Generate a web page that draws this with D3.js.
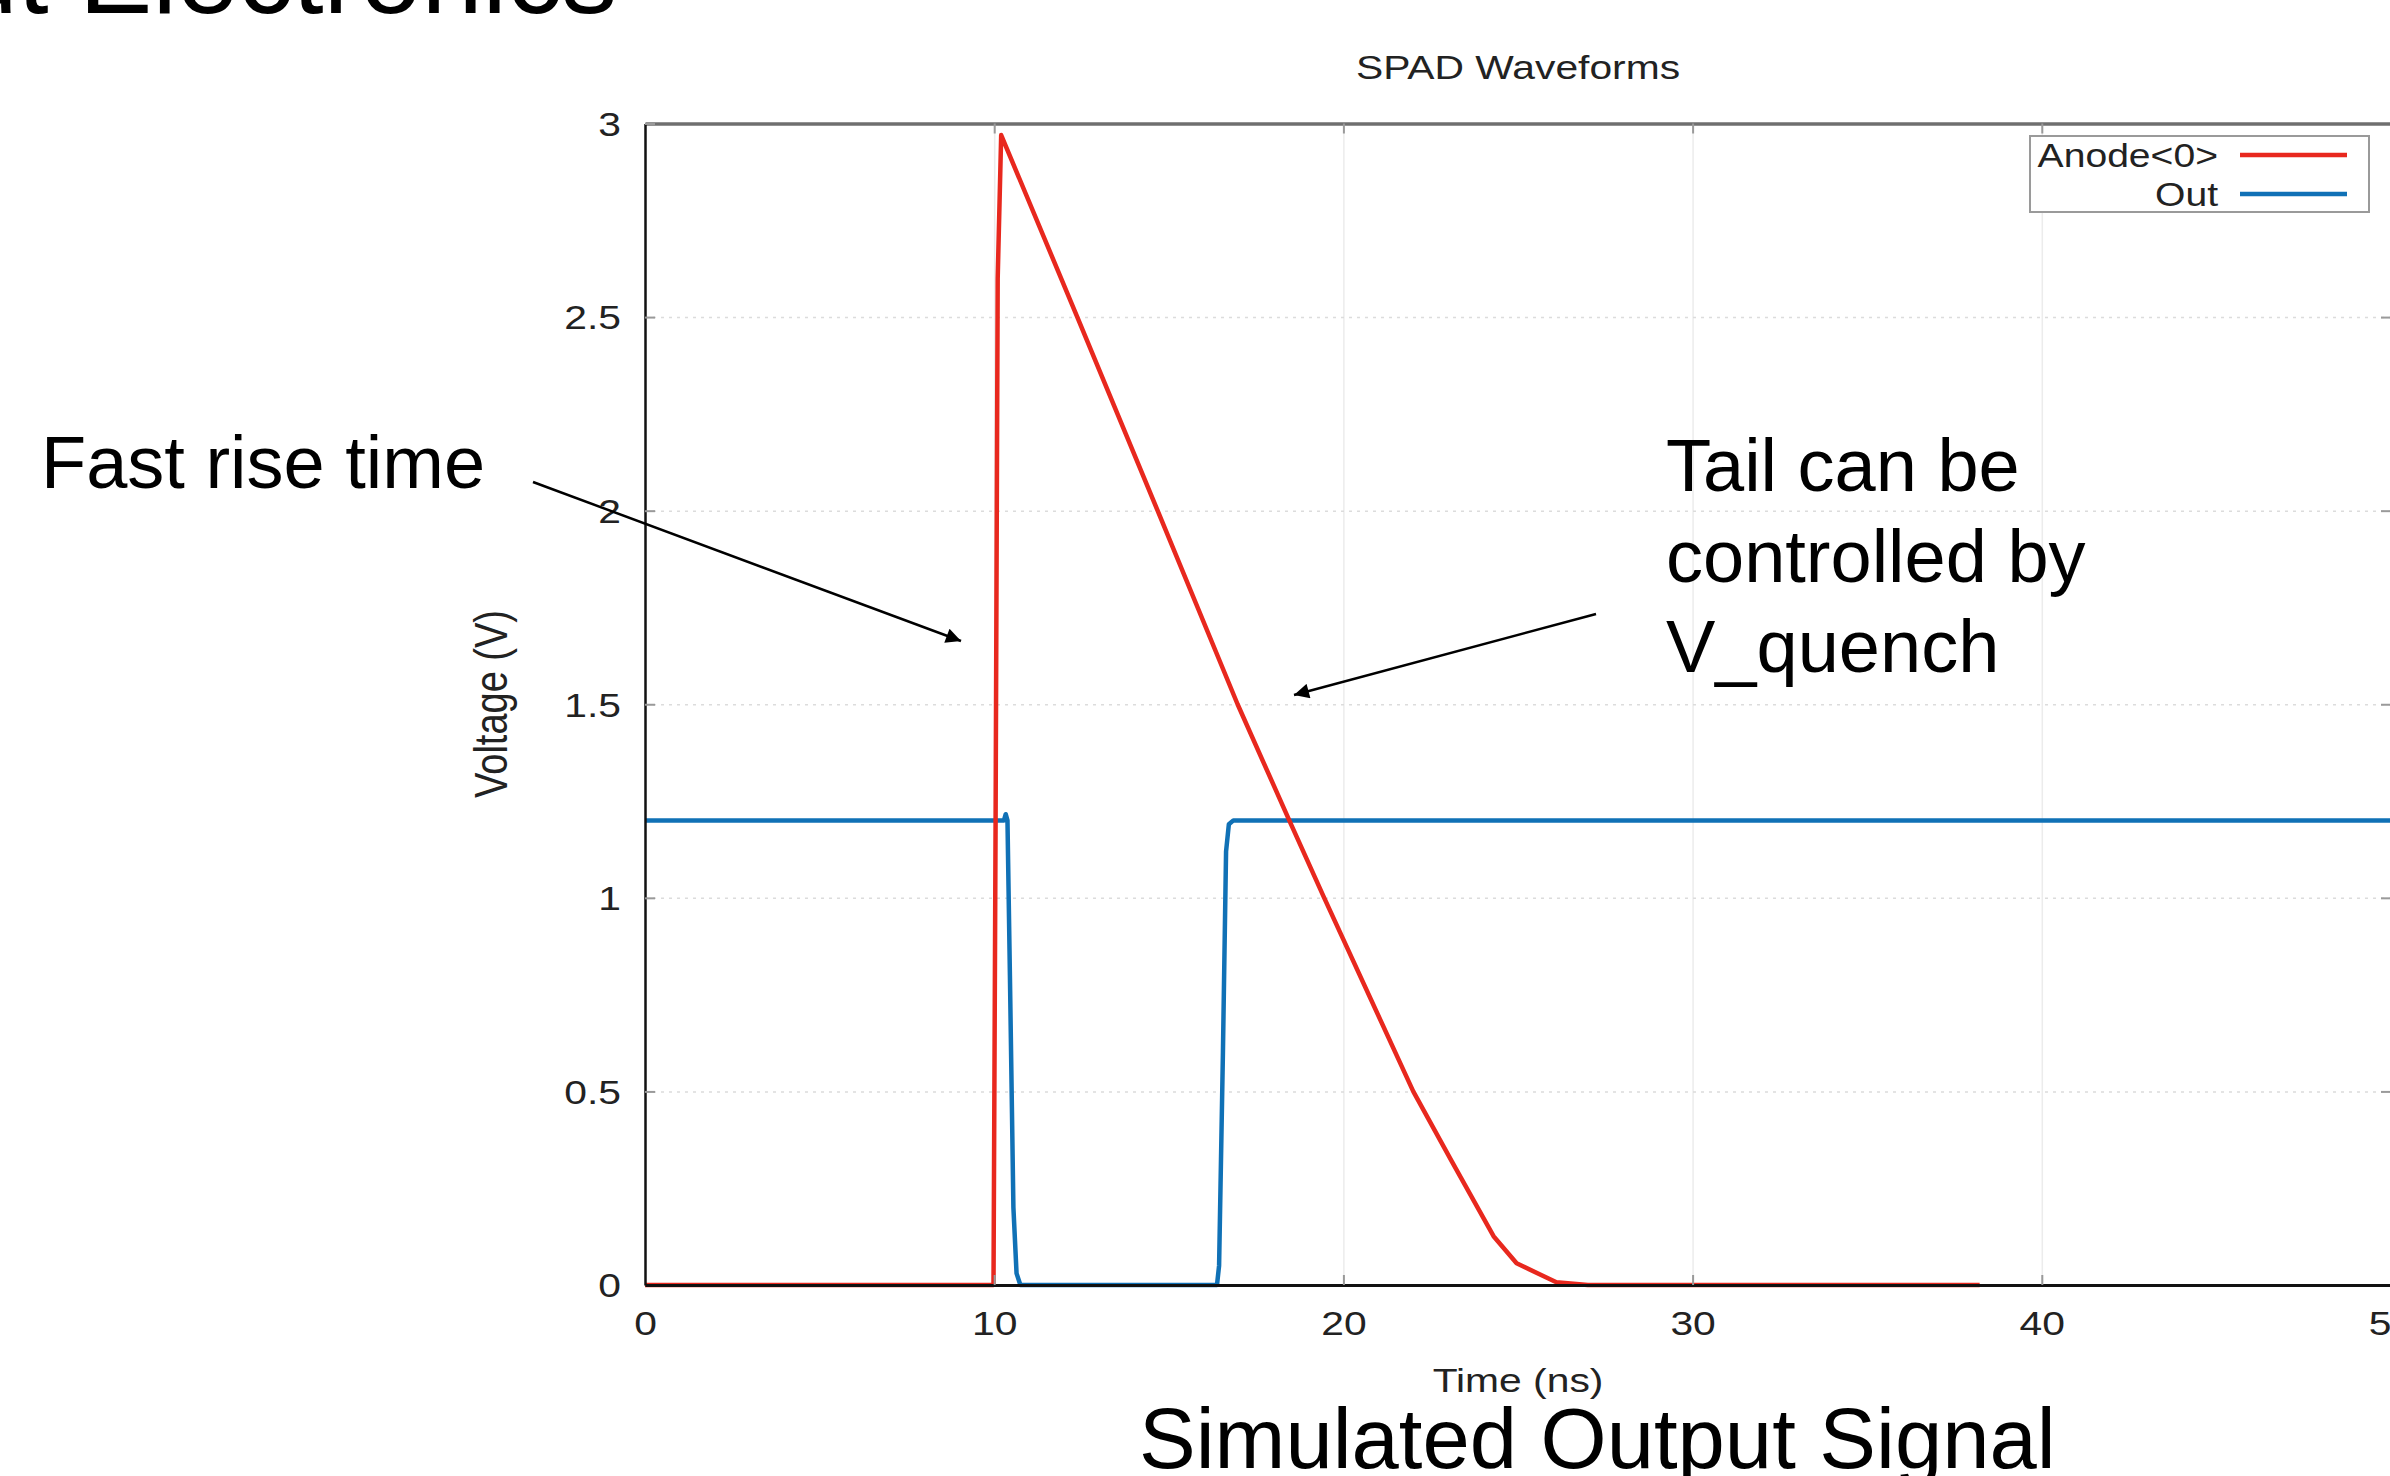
<!DOCTYPE html>
<html>
<head>
<meta charset="utf-8">
<script src="https://cdn.jsdelivr.net/npm/d3@7"></script>
<style>
  html, body { margin: 0; padding: 0; background: #fff; }
  svg { display: block; }
  text { font-family: "Liberation Sans", Arial, Helvetica, sans-serif; }
</style>
</head>
<body>
<svg id="chart" width="2390" height="1476"></svg>
<script>
// ---- data ----
const xTicks = [0, 10, 20, 30, 40, 50];
const yTicks = [0, 0.5, 1, 1.5, 2, 2.5, 3];
const seriesNames = ["Anode<0>", "Out"];
const anodeT = [0, 9.98, 10.04, 10.1, 10.2, 12.38, 14.68, 16.97, 18.45, 19.45, 22.0, 23.1, 24.3, 24.96, 26.1, 27.0, 38.22];
const anodeV = [0, 0, 1.2, 2.6, 2.97, 2.5, 2.0, 1.5, 1.2, 1.0, 0.5, 0.32, 0.126, 0.056, 0.007, 0, 0];
const outT = [0, 10.28, 10.33, 10.38, 10.45, 10.55, 10.64, 10.75, 16.38, 16.44, 16.55, 16.64, 16.72, 16.85, 50];
const outV = [1.2, 1.2, 1.216, 1.2, 0.8, 0.2, 0.03, 0, 0, 0.05, 0.6, 1.12, 1.19, 1.2, 1.2];
const annotations = {
  fast: "Fast rise time",
  tail: ["Tail can be", "controlled by", "V_quench"],
  bottom: "Simulated Output Signal",
  top: "Readout Electronics"
};

const svg = d3.select("#chart");
const X0 = 645, X1 = 2391, Y0 = 1285, Y1 = 123.5;
const x = d3.scaleLinear().domain([0, 50]).range([X0, X1]);
const y = d3.scaleLinear().domain([0, 3]).range([Y0, Y1]);
const SX = 1.2; // chart image is horizontally stretched in the slide
const red = "#e8281e", blue = "#1071b6";

// grid
svg.append("g").attr("transform", `translate(0,${Y0})`)
  .call(d3.axisBottom(x).tickValues([10, 20, 30, 40]).tickSize(-(Y0 - Y1)).tickFormat(""))
  .call(g => g.select(".domain").remove())
  .call(g => g.selectAll("line").attr("stroke", "#ececec").attr("stroke-width", 1.5));
svg.append("g").attr("transform", `translate(${X0},0)`)
  .call(d3.axisLeft(y).tickValues([0.5, 1, 1.5, 2, 2.5]).tickSize(-(X1 - X0)).tickFormat(""))
  .call(g => g.select(".domain").remove())
  .call(g => g.selectAll("line").attr("stroke", "#dcdcdc").attr("stroke-width", 1.5).attr("stroke-dasharray", "3,5"));

// lines
const line = d3.line().x(d => x(d[0])).y(d => y(d[1]));
svg.append("path").datum(outT.map((t, i) => [t, outV[i]]))
  .attr("d", line).attr("fill", "none").attr("stroke", blue).attr("stroke-width", 4.5).attr("stroke-linejoin", "round");
svg.append("path").datum(anodeT.map((t, i) => [t, anodeV[i]]))
  .attr("d", line).attr("fill", "none").attr("stroke", red).attr("stroke-width", 4.5).attr("stroke-linejoin", "round");

// axes
function styleText(sel, tx, ty) {
  sel.selectAll("text")
    .attr("x", 0).attr("y", 0).attr("dy", "0.35em")
    .attr("transform", `translate(${tx},${ty}) scale(${SX},1)`)
    .attr("font-size", 34).attr("fill", "#222")
    .attr("font-family", "'Liberation Sans', Arial, sans-serif");
}
// top border with ticks
svg.append("g").attr("transform", `translate(0,${Y1})`)
  .call(d3.axisTop(x).tickValues([10, 20, 30, 40]).tickSize(-10).tickSizeOuter(0).tickFormat(""))
  .call(g => g.select(".domain").attr("stroke", "#6f6f6f").attr("stroke-width", 3.5))
  .call(g => g.selectAll(".tick line").attr("stroke", "#9a9a9a").attr("stroke-width", 2));
// right ticks
svg.append("g").attr("transform", `translate(${X1},0)`)
  .call(d3.axisRight(y).tickValues([0.5, 1, 1.5, 2, 2.5]).tickSize(-10).tickSizeOuter(0).tickFormat(""))
  .call(g => g.select(".domain").attr("stroke", "#444").attr("stroke-width", 2))
  .call(g => g.selectAll(".tick line").attr("stroke", "#9a9a9a").attr("stroke-width", 2));
// left axis
svg.append("g").attr("transform", `translate(${X0},0)`)
  .call(d3.axisLeft(y).tickValues(yTicks).tickSize(-10).tickSizeOuter(0).tickFormat(d3.format("")))
  .call(g => g.select(".domain").attr("stroke", "#111").attr("stroke-width", 2.5))
  .call(g => g.selectAll(".tick line").attr("stroke", "#999").attr("stroke-width", 2))
  .call(g => styleText(g, -24, 0));
// bottom axis
svg.append("g").attr("transform", `translate(0,${Y0})`)
  .call(d3.axisBottom(x).tickValues(xTicks).tickSize(-10).tickSizeOuter(0).tickFormat(d3.format("")))
  .call(g => g.select(".domain").attr("stroke", "#111").attr("stroke-width", 3))
  .call(g => g.selectAll(".tick line").attr("stroke", "#999").attr("stroke-width", 2))
  .call(g => styleText(g, 0, 38))
  .call(g => g.selectAll(".tick text").attr("text-anchor", "middle"));
svg.selectAll(".tick").filter(d => d === 0).select("line").attr("stroke", "none");

// titles
svg.append("text").attr("transform", `translate(1518,79) scale(${SX},1)`)
  .attr("text-anchor", "middle").attr("font-size", 34).attr("fill", "#222").text("SPAD Waveforms");
svg.append("text").attr("transform", `translate(1518,1392) scale(${SX},1)`)
  .attr("text-anchor", "middle").attr("font-size", 34).attr("fill", "#222").text("Time (ns)");
svg.append("text").attr("transform", `translate(491,704) rotate(-90) scale(1,${SX})`)
  .attr("text-anchor", "middle").attr("dy", "0.35em").attr("font-size", 38).attr("fill", "#222").text("Voltage (V)");

// legend
const lg = svg.append("g");
lg.append("rect").attr("x", 2030).attr("y", 136).attr("width", 339).attr("height", 76)
  .attr("fill", "#fff").attr("stroke", "#9a9a9a").attr("stroke-width", 2);
[[seriesNames[0], red, 155], [seriesNames[1], blue, 194]].forEach(([name, col, yy]) => {
  lg.append("text").attr("transform", `translate(2218,${yy}) scale(1.15,1)`)
    .attr("text-anchor", "end").attr("dy", "0.35em").attr("font-size", 34).attr("fill", "#222").text(name);
  lg.append("line").attr("x1", 2240).attr("x2", 2347).attr("y1", yy).attr("y2", yy)
    .attr("stroke", col).attr("stroke-width", 4.5);
});

// slide annotations
svg.append("defs").append("marker").attr("id", "ah").attr("viewBox", "0 0 10 10")
  .attr("refX", 10).attr("refY", 5).attr("markerWidth", 7).attr("markerHeight", 6)
  .attr("markerUnits", "strokeWidth").attr("orient", "auto")
  .append("path").attr("d", "M0,0 L10,5 L0,10 Z").attr("fill", "#000");
svg.append("line").attr("x1", 533).attr("y1", 482).attr("x2", 961).attr("y2", 641)
  .attr("stroke", "#000").attr("stroke-width", 2.5).attr("marker-end", "url(#ah)");
svg.append("line").attr("x1", 1596).attr("y1", 614).attr("x2", 1294).attr("y2", 695)
  .attr("stroke", "#000").attr("stroke-width", 2.5).attr("marker-end", "url(#ah)");

svg.append("text").attr("x", 41).attr("y", 488).attr("font-size", 74).attr("fill", "#000").text(annotations.fast);
annotations.tail.forEach((s, i) => {
  svg.append("text").attr("x", 1666).attr("y", 491 + i * 90.5).attr("font-size", 74).attr("fill", "#000").text(s);
});
svg.append("text").attr("x", 1139).attr("y", 1468).attr("font-size", 85).attr("fill", "#000").text(annotations.bottom);
svg.append("text").attr("x", 617).attr("y", 13).attr("text-anchor", "end").attr("font-size", 110).attr("fill", "#000").text(annotations.top);
</script>
</body>
</html>
